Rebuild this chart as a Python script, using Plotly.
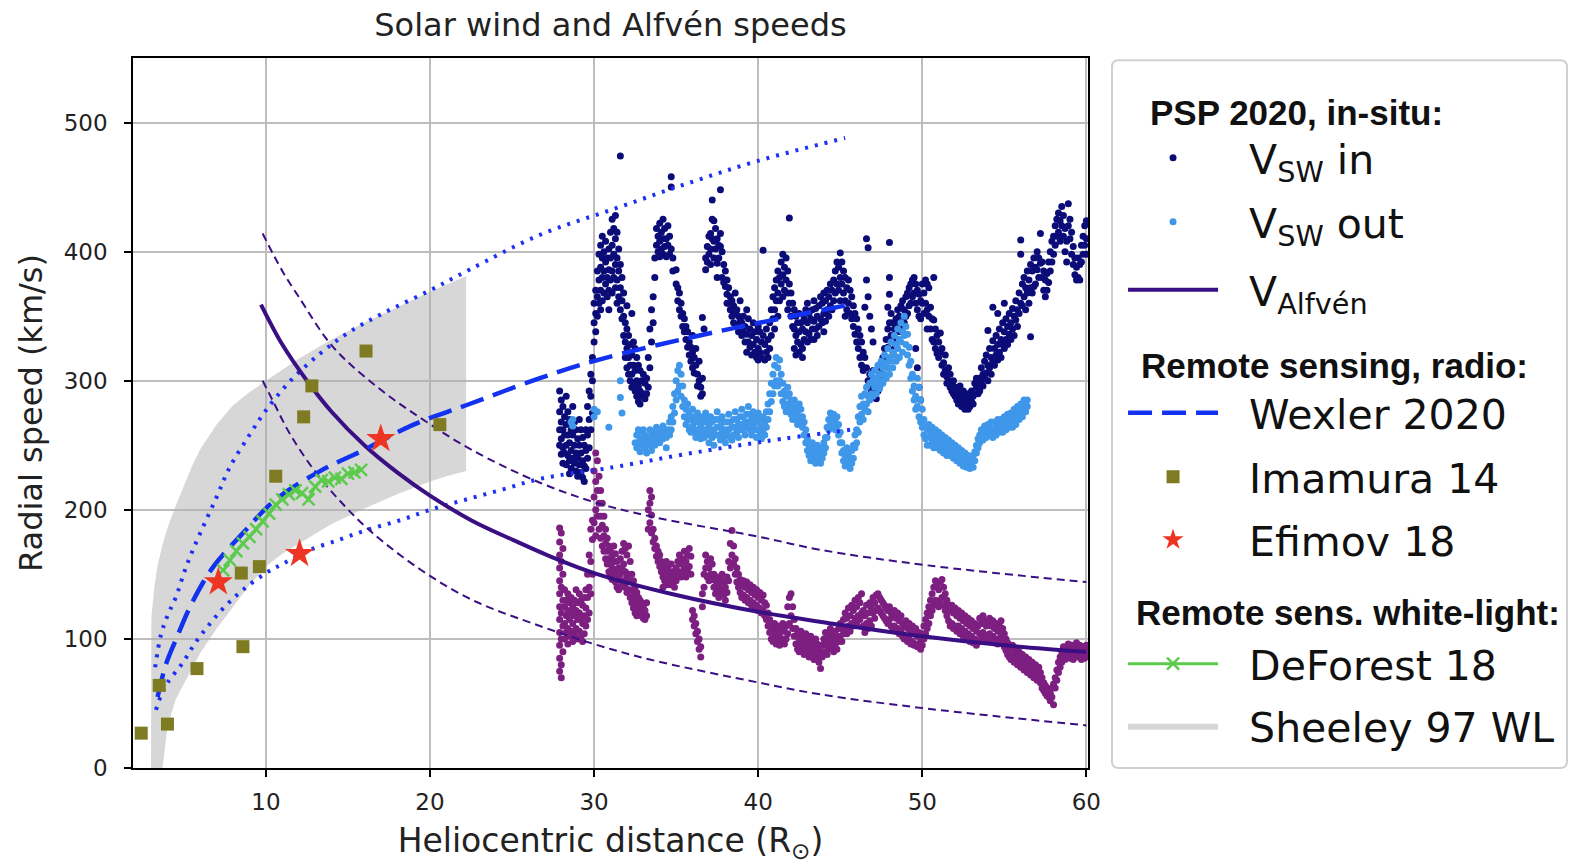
import plotly.graph_objects as go

# ---------------- axis ticks ----------------
x_ticks = [10, 20, 30, 40, 50, 60]
y_ticks = [0, 100, 200, 300, 400, 500]

# ---------------- remote-sensing points ----------------
imamura_r = [2.4, 3.5, 4.0, 5.8, 8.5, 8.6, 9.6, 10.6, 12.3, 12.8, 16.1, 20.6]
imamura_v = [27, 64, 34, 77, 151, 94, 156, 226, 272, 296, 323, 266]

efimov_r = [7.1, 12.05, 17.0]
efimov_v = [144, 166, 255]

deforest_r = [7.4, 7.8, 8.2, 8.6, 9.0, 9.4, 9.8, 10.2, 10.6, 11.0, 11.4, 11.8,
              12.2, 12.6, 13.0, 13.4, 13.8, 14.2, 14.6, 15.0, 15.4, 15.8]
deforest_v = [153, 161, 168, 174, 179, 185, 191, 197, 204, 208, 212, 215,
              213, 208, 218, 223, 222, 225, 224, 228, 229, 231]

# Sheeley 97 band (upper edge left->right, then lower edge right->left)
sheeley_r = [3.0, 3.0, 3.02, 3.2, 3.4, 3.7, 4.0, 4.5, 5.0, 5.5, 6.0, 6.5, 7.0, 8.0, 9.0,
             10.0, 12.0, 14.0, 16.0, 18.0, 20.0, 22.2,
             22.2, 21.0, 20.0, 18.0, 16.0, 14.0, 12.0, 11.0, 10.0, 9.0, 8.0, 7.0, 6.0,
             5.2, 4.5, 4.0, 3.7]
sheeley_v = [0, 60, 117, 140, 157, 173, 186, 203, 219, 234, 247, 257, 266, 281, 291,
             300, 317, 332, 345, 357, 369, 381,
             230, 226, 222, 212, 201, 189, 174, 166, 156, 142, 125, 108, 89,
             70, 53, 32, 0]

# Wexler 2020 fit and its envelope
wexler_r = [3.4, 3.9, 4.5, 5.5, 6.8, 8.6, 10.6, 13.3, 15.9, 19.0, 22.2, 26.7, 30.2, 35.7, 40.5, 45.6]
wexler_v = [55, 80, 99, 128, 156, 182, 208, 230, 246, 266, 281, 302, 316, 333, 346, 359]

wex_hi_r = [3.25, 3.6, 4.0, 4.5, 5.2, 6.0, 7.0, 7.8, 9.0, 10.0, 11.5, 13.3, 15.0, 17.1,
            20.0, 22.4, 26.7, 31.2, 35.5, 39.9, 45.3]
wex_hi_v = [78, 103, 118, 132, 158, 182, 210, 233, 258, 277, 300, 321, 337, 352,
            370, 386, 413, 433, 452, 470, 488]

wex_lo_r = [3.3, 3.6, 4.0, 4.9, 5.7, 6.6, 7.5, 8.6, 10.0, 11.0, 12.5, 14.5, 16.3, 18.2,
            20.0, 22.2, 24.5, 26.7, 31.2, 35.5, 40.4, 45.6]
wex_lo_v = [45, 56, 66, 81, 97, 112, 125, 138, 151, 158, 168, 177, 185, 192,
            200, 208, 216, 224, 233, 243, 253, 262]

# Alfven speed fit and its envelope
alf_r = [9.7, 11.0, 12.5, 14.0, 16.0, 18.0, 20.0, 22.5, 25.0, 27.5, 30.0, 35.0, 40.0, 45.0, 50.0, 55.0, 60.0]
alf_v = [359, 328, 300, 276, 250, 229, 211, 192, 177, 163, 151, 134, 121, 111, 102, 95, 90]

alf_hi_r = [9.8, 11.0, 12.0, 14.1, 17.0, 19.8, 22.6, 26.7, 30.0, 33.4, 40.1, 43.8, 50.3, 60.0]
alf_hi_v = [414, 385, 365, 326, 293, 268, 246, 221, 206, 195, 179, 169, 157, 144]

alf_lo_r = [9.8, 10.4, 11.5, 13.1, 14.8, 16.5, 19.5, 22.6, 26.7, 30.0, 33.4, 40.1, 43.8, 50.3, 60.0]
alf_lo_v = [300, 285, 258, 228, 203, 182, 153, 130, 110, 96, 84, 66, 57, 46, 33]

# ---------------- PSP in-situ samples: (distance, [speeds at that distance]) ----------------
vsw_in = [
    (27.9, [292, 276, 262, 250]), (28.0, [285, 268, 255, 243]), (28.1, [280, 262, 248, 236]),
    (28.2, [272, 258, 244]), (28.3, [288, 266, 250, 235]), (28.4, [276, 258, 242]),
    (28.5, [270, 252, 238, 228]), (28.6, [262, 246, 232]), (28.7, [280, 258, 240]),
    (28.8, [268, 250, 236]), (28.9, [262, 244, 230]), (29.0, [255, 240, 226]),
    (29.1, [270, 250, 235]), (29.2, [262, 244, 229]), (29.3, [256, 238, 225]),
    (29.4, [250, 234, 222]), (29.5, [262, 246, 232]), (29.6, [280, 258, 240]),
    (29.7, [292, 270, 248]), (29.8, [305, 288, 262]), (29.9, [318, 300, 275]),
    (30.0, [330, 345, 360]), (30.1, [370, 352, 338]), (30.2, [385, 365, 350]),
    (30.3, [398, 378, 360]), (30.4, [405, 388, 370, 355]), (30.5, [412, 395, 380, 362]),
    (30.6, [400, 385, 368]), (30.7, [408, 392, 375]), (30.8, [395, 380, 365]),
    (30.9, [402, 386, 370, 355]), (31.0, [415, 395, 378]), (31.1, [425, 405, 385, 368]),
    (31.2, [418, 398, 380]), (31.3, [428, 410, 390, 372]), (31.4, [415, 395, 378, 360]),
    (31.5, [402, 385, 365]), (31.6, [474, 390, 372, 355]), (31.7, [380, 362, 348]),
    (31.8, [368, 350, 335]), (31.9, [345, 330, 318]), (32.0, [358, 340, 325, 310]),
    (32.1, [335, 318, 305]), (32.2, [328, 312, 300]), (32.3, [352, 320, 305, 295]),
    (32.4, [330, 312, 298]), (32.5, [325, 308, 292]), (32.6, [318, 300, 288]),
    (32.7, [312, 296, 284]), (32.8, [308, 292, 282]), (32.9, [300, 288]),
    (33.0, [305, 290]), (33.1, [298, 286]), (33.2, [302, 290]), (33.3, [318, 295]),
    (33.4, [340, 310]), (33.5, [355, 330]), (33.6, [365, 345]), (33.7, [380, 395]),
    (33.8, [405, 418]), (33.9, [412, 400]), (34.0, [422, 408, 396]), (34.1, [415, 402]),
    (34.2, [425, 410, 398]), (34.3, [418, 404]), (34.4, [410, 396]), (34.5, [420, 405]),
    (34.6, [412, 398]), (34.7, [458, 450, 402]), (34.8, [395, 385]), (35.0, [386, 375]),
    (35.1, [372, 362]), (35.2, [368, 355]), (35.3, [360, 350]), (35.4, [352, 342]),
    (35.5, [348, 338]), (35.6, [342, 332]), (35.7, [338, 326]), (35.8, [330, 320]),
    (35.9, [326, 315]), (36.0, [335, 322, 310]), (36.1, [318, 306]), (36.2, [325, 312]),
    (36.3, [305, 296]), (36.4, [315, 300]), (36.5, [295, 288]), (36.6, [349, 302, 290]),
    (36.7, [340]), (36.8, [386, 395]), (36.9, [404, 392]), (37.0, [412, 398]),
    (37.1, [414, 402, 390]), (37.2, [440, 425, 410]), (37.3, [424, 408, 395]),
    (37.4, [418, 402]), (37.5, [410, 391, 380]), (37.6, [405, 395]), (37.7, [448, 414, 404]),
    (37.8, [400, 380]), (37.9, [390, 376]), (38.0, [385, 373]), (38.1, [378, 367, 360]),
    (38.2, [372, 360]), (38.3, [365, 355]), (38.4, [362, 350]), (38.5, [358, 345]),
    (38.6, [368, 352]), (38.7, [355, 342]), (38.8, [350, 338]), (38.9, [362, 346]),
    (39.0, [345, 335]), (39.1, [350, 338]), (39.2, [342, 330]), (39.3, [355, 336, 322]),
    (39.4, [348, 330]), (39.5, [340, 326]), (39.6, [335, 320]), (39.7, [345, 328]),
    (39.8, [338, 322]), (39.9, [332, 318]), (40.0, [342, 325, 316]), (40.1, [338, 322]),
    (40.2, [330, 318]), (40.3, [401, 335]), (40.4, [328, 316]), (40.5, [340, 322]),
    (40.6, [332, 318]), (40.7, [345, 325]), (40.8, [355, 335]), (40.9, [365, 348]),
    (41.0, [372, 355, 340]), (41.1, [378, 362]), (41.2, [385, 368, 350]), (41.3, [380, 362]),
    (41.4, [392, 375]), (41.5, [398, 382, 365]), (41.6, [388, 370]), (41.7, [395, 378]),
    (41.8, [385, 368, 355]), (41.9, [426, 375, 360]), (42.0, [368, 350]), (42.1, [360, 342]),
    (42.2, [355, 340, 325]), (42.3, [350, 335, 320]), (42.4, [345, 330]),
    (42.5, [352, 338, 322]), (42.6, [345, 328]), (42.7, [340, 325, 318]), (42.8, [348, 332]),
    (42.9, [355, 338]), (43.0, [360, 345, 330]), (43.1, [352, 336]), (43.2, [348, 332]),
    (43.3, [355, 340]), (43.4, [362, 346, 332]), (43.5, [356, 340]), (43.6, [350, 335]),
    (43.7, [358, 342]), (43.8, [365, 348]), (43.9, [360, 345]), (44.0, [368, 352, 338]),
    (44.1, [362, 346]), (44.2, [370, 355]), (44.3, [365, 350]), (44.4, [375, 358]),
    (44.5, [370, 355]), (44.6, [378, 362]), (44.7, [385, 368]), (44.8, [392, 375]),
    (44.9, [388, 370]), (45.0, [399, 380, 362]), (45.1, [392, 375]), (45.2, [385, 368]),
    (45.3, [380, 362, 350]), (45.4, [372, 355]), (45.5, [378, 360]), (45.6, [370, 352]),
    (45.7, [365, 348]), (45.8, [358, 342]), (45.9, [352, 336]), (46.0, [348, 330]),
    (46.1, [340, 325]), (46.2, [335, 318]), (46.3, [330, 312]), (46.4, [322, 308]),
    (46.5, [357, 318]), (46.6, [410, 378, 310]), (46.7, [403, 365, 300]),
    (46.8, [350, 305, 295]), (46.9, [340, 298, 292]), (47.0, [330, 308, 296]),
    (47.1, [302, 290]), (47.2, [298, 286]), (47.3, [300, 292]), (47.4, [295, 305]),
    (47.5, [310, 300]), (47.6, [318, 305]), (47.7, [325, 312]), (47.8, [332, 318]),
    (47.9, [357, 340, 326]), (48.0, [407, 380, 367, 345]), (48.1, [352, 335]),
    (48.2, [334, 345]), (48.3, [340, 325]), (48.4, [348, 332]), (48.5, [344, 355]),
    (48.6, [350, 338]), (48.7, [358, 342]), (48.8, [362, 348]), (48.9, [355, 345]),
    (49.0, [365, 350]), (49.1, [352, 368]), (49.2, [372, 358]), (49.3, [375, 360]),
    (49.4, [378, 365]), (49.5, [380, 368]), (49.6, [375, 360, 325]), (49.7, [370, 355, 310]),
    (49.8, [367, 350, 295]), (49.9, [362, 348, 285]), (50.0, [375, 360]), (50.1, [368, 352]),
    (50.2, [378, 360]), (50.3, [375, 355, 340]), (50.4, [372, 350]), (50.5, [357, 340]),
    (50.6, [348, 332]), (50.7, [380, 347, 330]), (50.8, [340, 325]), (50.9, [335, 321]),
    (51.0, [330, 318]), (51.1, [337, 322]), (51.2, [325, 312]), (51.3, [314, 305]),
    (51.4, [320, 308]), (51.5, [303, 298]), (51.6, [310, 300]), (51.7, [305, 295]),
    (51.8, [298, 292]), (51.9, [300, 290]), (52.0, [295, 288]), (52.1, [292, 285]),
    (52.2, [290, 282]), (52.3, [296, 286]), (52.4, [288, 280]), (52.5, [292, 284]),
    (52.6, [286, 278]), (52.7, [282, 290]), (52.8, [285, 278]), (52.9, [288, 280]),
    (53.0, [292, 284]), (53.1, [288, 282]), (53.2, [290, 298]), (53.3, [295, 302]),
    (53.4, [298, 290]), (53.5, [302, 292]), (53.6, [310, 298]), (53.7, [305, 296]),
    (53.8, [315, 302]), (53.9, [320, 306]), (54.0, [339, 312, 300]), (54.1, [325, 310]),
    (54.2, [318, 305]), (54.3, [357, 331, 315]), (54.4, [325, 312]), (54.5, [335, 320]),
    (54.6, [352, 328, 316]), (54.7, [340, 322]), (54.8, [332, 318]), (54.9, [345, 328]),
    (55.0, [360, 338, 325]), (55.1, [348, 332]), (55.2, [342, 328]), (55.3, [352, 336]),
    (55.4, [345, 332]), (55.5, [356, 340]), (55.6, [350, 335]), (55.7, [362, 347]),
    (55.8, [355, 342]), (55.9, [368, 352]), (56.0, [409, 398, 360]), (56.1, [375, 358]),
    (56.2, [380, 365]), (56.3, [372, 355]), (56.4, [385, 368]), (56.5, [378, 360]),
    (56.6, [390, 372, 334]), (56.7, [385, 368]), (56.8, [395, 373]), (56.9, [388, 375]),
    (57.0, [400, 386]), (57.1, [395, 380]), (57.2, [414, 391]), (57.3, [392, 380]),
    (57.4, [385, 370]), (57.5, [378, 365]), (57.6, [383, 370]), (57.7, [392, 376]),
    (57.8, [400, 385]), (57.9, [408, 392]), (58.0, [398, 412]), (58.1, [420, 405]),
    (58.2, [412, 425]), (58.3, [430, 415]), (58.4, [424, 408]), (58.5, [435, 420]),
    (58.6, [428, 412]), (58.7, [418, 400]), (58.8, [408, 392]), (58.9, [437, 420]),
    (59.0, [425, 410]), (59.1, [415, 398]), (59.2, [404, 390]), (59.3, [395, 382]),
    (59.4, [388, 378]), (59.5, [395, 380]), (59.6, [378, 390]), (59.7, [405, 392]),
    (59.8, [412, 398]), (59.9, [420, 405]), (60.0, [424, 410, 398]),
]

vsw_out = [
    (28.6, [268]), (28.7, [265, 270]), (30.0, [272, 278]), (30.2, [276]), (30.9, [264]),
    (31.6, [300, 287]), (31.7, [275]), (32.5, [252]), (32.6, [258, 248]), (32.7, [262, 250]),
    (32.8, [255, 245]), (32.9, [260, 250]), (33.0, [262, 254]), (33.1, [258, 248]),
    (33.2, [252, 244]), (33.3, [256]), (33.4, [262, 250]), (33.5, [258, 246]), (33.6, [254]),
    (33.7, [260, 250]), (33.8, [264, 255]), (33.9, [258]), (34.0, [262, 252]), (34.1, [258]),
    (34.2, [265, 255]), (34.3, [260]), (34.4, [256, 248]), (34.5, [262]), (34.6, [268, 258]),
    (34.7, [272, 262]), (34.8, [280, 268]), (34.9, [290, 275]), (35.0, [300, 285]),
    (35.1, [308, 292]), (35.2, [312, 296]), (35.3, [305, 288]), (35.4, [296, 280]),
    (35.5, [285, 272]), (35.6, [278, 266]), (35.7, [282, 270]), (35.8, [275, 262]),
    (35.9, [270, 260]), (36.0, [278, 265]), (36.1, [272, 260]), (36.2, [268, 256]),
    (36.3, [275, 262]), (36.4, [270, 258]), (36.5, [265, 255]), (36.6, [272, 260]),
    (36.7, [268, 256]), (36.8, [275, 262]), (36.9, [270, 258]), (37.0, [265, 252]),
    (37.1, [272, 260]), (37.2, [268, 256]), (37.3, [262, 250]), (37.4, [270, 258]),
    (37.5, [276, 264]), (37.6, [270, 258]), (37.7, [265, 254]), (37.8, [272, 260]),
    (37.9, [268, 256]), (38.0, [262, 252]), (38.1, [268, 258]), (38.2, [274, 262]),
    (38.3, [268, 256]), (38.4, [264, 254]), (38.5, [270, 258]), (38.6, [276, 264]),
    (38.7, [270, 260]), (38.8, [266, 256]), (38.9, [272, 262]), (39.0, [278, 266]),
    (39.1, [272, 262]), (39.2, [268, 258]), (39.3, [274, 264]), (39.4, [280, 268]),
    (39.5, [274, 262]), (39.6, [270, 258]), (39.7, [276, 265]), (39.8, [272, 262]),
    (39.9, [268, 256]), (40.0, [275, 262]), (40.1, [270, 258]), (40.2, [265, 255]),
    (40.3, [272, 262]), (40.4, [268, 258]), (40.5, [276, 264]), (40.6, [282, 270]),
    (40.7, [290, 276]), (40.8, [298, 284]), (40.9, [305, 290]), (41.0, [312, 296]),
    (41.1, [318, 300]), (41.2, [310, 296]), (41.3, [316, 300]), (41.4, [305, 290]),
    (41.5, [298, 284]), (41.6, [292, 280]), (41.7, [288, 276]), (41.8, [295, 282]),
    (41.9, [290, 278]), (42.0, [285, 274]), (42.1, [280, 270]), (42.2, [285, 275]),
    (42.3, [280, 270]), (42.4, [276, 266]), (42.5, [282, 272]), (42.6, [278, 268]),
    (42.7, [272, 264]), (42.8, [268, 258]), (42.9, [262, 252]), (43.0, [255, 246]),
    (43.1, [250, 242]), (43.2, [246, 238]), (43.3, [252, 242]), (43.4, [248, 240]),
    (43.5, [244, 236]), (43.6, [250, 240]), (43.7, [246, 238]), (43.8, [242, 236]),
    (43.9, [248, 240]), (44.0, [252, 244]), (44.1, [256, 248]), (44.2, [264, 256]),
    (44.3, [270, 262]), (44.4, [275, 266]), (44.5, [270, 264]), (44.6, [274, 266]),
    (44.7, [268, 262]), (44.8, [272, 265]), (44.9, [266, 258]), (45.0, [260, 252]),
    (45.1, [252, 244]), (45.2, [246, 238]), (45.3, [242, 234]), (45.4, [248, 238]),
    (45.5, [244, 236]), (45.6, [240, 232]), (45.7, [246, 236]), (45.8, [250, 240]),
    (45.9, [258, 248]), (46.0, [262, 252]), (46.1, [272, 260]), (46.2, [280, 268]),
    (46.3, [288, 274]), (46.4, [282, 270]), (46.5, [290, 278]), (46.6, [295, 282]),
    (46.7, [288, 276]), (46.8, [298, 285]), (46.9, [305, 290]), (47.0, [300, 288]),
    (47.1, [308, 295]), (47.2, [302, 290]), (47.3, [312, 298]), (47.4, [305, 294]),
    (47.5, [315, 300]), (47.6, [310, 298]), (47.7, [320, 305]), (47.8, [314, 302]),
    (47.9, [325, 310]), (48.0, [318, 305]), (48.1, [330, 315]), (48.2, [322, 310]),
    (48.3, [335, 320]), (48.4, [328, 315]), (48.5, [340, 325]), (48.6, [332, 318]),
    (48.7, [345, 330]), (48.8, [338, 322]), (48.9, [350, 335]), (49.0, [342, 328]),
    (49.1, [336, 320]), (49.2, [326, 312]), (49.3, [315, 302]), (49.4, [305, 292]),
    (49.5, [296, 285]), (49.6, [288, 278]), (49.7, [302, 280]), (49.8, [295, 272]),
    (49.9, [285, 268]), (50.0, [278, 264]), (50.1, [270, 258]), (50.2, [265, 255]),
    (50.3, [262, 250]), (50.4, [266, 256]), (50.5, [260, 250]), (50.6, [264, 254]),
    (50.7, [258, 248]), (50.8, [262, 252]), (50.9, [256, 248]), (51.0, [260, 250]),
    (51.1, [255, 246]), (51.2, [258, 250]), (51.3, [252, 244]), (51.4, [256, 248]),
    (51.5, [250, 242]), (51.6, [254, 246]), (51.7, [248, 242]), (51.8, [252, 244]),
    (51.9, [246, 240]), (52.0, [250, 242]), (52.1, [244, 238]), (52.2, [248, 240]),
    (52.3, [242, 236]), (52.4, [246, 238]), (52.5, [240, 234]), (52.6, [244, 236]),
    (52.7, [238, 233]), (52.8, [242, 234]), (52.9, [238, 232]), (53.0, [235, 240]),
    (53.1, [233, 242]), (53.2, [238, 245]), (53.3, [244, 250]), (53.4, [248, 255]),
    (53.5, [252, 258]), (53.6, [256, 262]), (53.7, [254, 260]), (53.8, [258, 265]),
    (53.9, [256, 262]), (54.0, [260, 266]), (54.1, [258, 264]), (54.2, [262, 268]),
    (54.3, [256, 262]), (54.4, [260, 268]), (54.5, [258, 264]), (54.6, [262, 270]),
    (54.7, [260, 266]), (54.8, [264, 270]), (54.9, [260, 268]), (55.0, [265, 272]),
    (55.1, [262, 270]), (55.2, [266, 274]), (55.3, [264, 270]), (55.4, [268, 275]),
    (55.5, [264, 272]), (55.6, [270, 278]), (55.7, [266, 274]), (55.8, [272, 280]),
    (55.9, [270, 278]), (56.0, [275, 282]), (56.1, [272, 280]), (56.2, [278, 285]),
    (56.3, [276, 282]), (56.4, [280, 285]),
]

v_alfven = [
    (27.9, [186, 175, 165, 155, 145, 135, 125, 115, 105, 95, 85, 75]),
    (28.0, [182, 160, 140, 120, 100, 80, 70]), (28.1, [170, 150, 130, 110, 90]),
    (28.2, [138, 125, 112, 100]), (28.3, [130, 118, 105]), (28.4, [135, 122, 108, 96]),
    (28.5, [128, 115, 102]), (28.6, [132, 120, 106]), (28.7, [125, 112, 98]),
    (28.8, [130, 118, 104]), (28.9, [138, 122, 108]), (29.0, [128, 115, 100]),
    (29.1, [135, 120, 106]), (29.2, [130, 116, 102]), (29.3, [126, 112, 98]),
    (29.4, [132, 118, 104]), (29.5, [138, 124, 110]), (29.6, [150, 132, 115]),
    (29.7, [165, 140, 120]), (29.8, [185, 160, 135]), (29.9, [192, 177, 150]),
    (30.0, [230, 210, 190]), (30.1, [244, 222, 200, 180]), (30.2, [238, 215, 195]),
    (30.3, [226, 205, 185]), (30.4, [215, 195, 178]), (30.5, [205, 188, 172]),
    (30.6, [195, 180, 168]), (30.7, [185, 174, 162]), (30.8, [178, 168, 158]),
    (30.9, [172, 162, 152]), (31.0, [168, 158, 148]), (31.1, [164, 155, 146]),
    (31.2, [172, 160, 150]), (31.3, [166, 154, 144]), (31.4, [160, 150, 140]),
    (31.5, [155, 146, 138]), (31.6, [162, 150, 140]), (31.7, [168, 155, 142]),
    (31.8, [174, 158, 145]), (31.9, [170, 152, 140]), (32.0, [165, 148, 136]),
    (32.1, [172, 150, 138]), (32.2, [160, 145, 132]), (32.3, [150, 138, 128]),
    (32.4, [145, 134, 124]), (32.5, [140, 130, 120]), (32.6, [136, 126, 118]),
    (32.7, [132, 124]), (32.8, [130, 120]), (32.9, [128, 118]), (33.0, [125, 116]),
    (33.1, [122, 115]), (33.2, [128, 118]), (33.3, [200, 185]), (33.4, [215, 205, 190]),
    (33.5, [210, 196, 182]), (33.6, [185, 175]), (33.7, [178, 170]), (33.8, [172, 164]),
    (33.9, [168, 160]), (34.0, [165, 156]), (34.1, [160, 152]), (34.2, [156, 148, 140]),
    (34.3, [152, 145]), (34.4, [160, 150, 142]), (34.5, [155, 146]), (34.6, [150, 142]),
    (34.7, [158, 148]), (34.8, [152, 144]), (34.9, [148, 140]), (35.0, [155, 145]),
    (35.1, [160, 150]), (35.2, [165, 152]), (35.3, [158, 148]), (35.4, [162, 150]),
    (35.5, [168, 155]), (35.6, [160, 148]), (35.7, [165, 152]), (35.8, [170, 156]),
    (35.9, [164, 150]), (36.0, [122, 115]), (36.1, [118, 110]), (36.2, [112, 104]),
    (36.3, [106, 98]), (36.4, [100, 92]), (36.5, [94, 86]), (36.6, [135, 125]),
    (36.7, [150, 140]), (36.8, [165, 155]), (36.9, [160, 148]), (37.0, [155, 145]),
    (37.1, [162, 150]), (37.2, [158, 146]), (37.3, [150, 140]), (37.4, [145, 135]),
    (37.5, [148, 138]), (37.6, [142, 132]), (37.7, [146, 136]), (37.8, [150, 138]),
    (37.9, [144, 134]), (38.0, [140, 130]), (38.1, [148, 136]), (38.2, [160, 145]),
    (38.3, [174, 155]), (38.4, [184, 165]), (38.5, [172, 158]), (38.6, [162, 150]),
    (38.7, [155, 144]), (38.8, [150, 140]), (38.9, [146, 136]), (39.0, [142, 132]),
    (39.1, [145, 134]), (39.2, [140, 130]), (39.3, [144, 132]), (39.4, [138, 128]),
    (39.5, [142, 130]), (39.6, [136, 126]), (39.7, [140, 128]), (39.8, [134, 124]),
    (39.9, [138, 126]), (40.0, [132, 122]), (40.1, [136, 124]), (40.2, [130, 120]),
    (40.3, [134, 122]), (40.4, [128, 118]), (40.5, [126, 115]), (40.6, [120, 110]),
    (40.7, [115, 105]), (40.8, [110, 100]), (40.9, [108, 98]), (41.0, [112, 102]),
    (41.1, [105, 96]), (41.2, [110, 100]), (41.3, [104, 95]), (41.4, [108, 98]),
    (41.5, [112, 100]), (41.6, [106, 96]), (41.7, [110, 100]), (41.8, [125, 104]),
    (41.9, [132, 112]), (42.0, [135, 118]), (42.1, [125, 108]), (42.2, [115, 102]),
    (42.3, [108, 96]), (42.4, [104, 92]), (42.5, [100, 90]), (42.6, [106, 95]),
    (42.7, [102, 92]), (42.8, [98, 88]), (42.9, [104, 94]), (43.0, [100, 90]),
    (43.1, [96, 86]), (43.2, [102, 92]), (43.3, [98, 88]), (43.4, [94, 84]),
    (43.5, [100, 90]), (43.6, [96, 85]), (43.7, [92, 82]), (43.8, [88, 77]),
    (43.9, [95, 86]), (44.0, [100, 90]), (44.1, [105, 95]), (44.2, [98, 88]),
    (44.3, [102, 92]), (44.4, [108, 97]), (44.5, [104, 94]), (44.6, [100, 90]),
    (44.7, [106, 96]), (44.8, [102, 92]), (44.9, [108, 98]), (45.0, [112, 102]),
    (45.1, [108, 98]), (45.2, [115, 104]), (45.3, [120, 108]), (45.4, [116, 104]),
    (45.5, [124, 110]), (45.6, [118, 106]), (45.7, [126, 112]), (45.8, [122, 110]),
    (45.9, [130, 116]), (46.0, [125, 112]), (46.1, [132, 118]), (46.2, [128, 115]),
    (46.3, [135, 120]), (46.4, [122, 110]), (46.5, [118, 105]), (46.6, [126, 112]),
    (46.7, [120, 108]), (46.8, [128, 114]), (46.9, [124, 110]), (47.0, [132, 120]),
    (47.1, [128, 116]), (47.2, [134, 122]), (47.3, [135, 124]), (47.4, [132, 122]),
    (47.5, [130, 120]), (47.6, [128, 118]), (47.7, [126, 116]), (47.8, [124, 114]),
    (47.9, [122, 112]), (48.0, [125, 115]), (48.1, [120, 110]), (48.2, [118, 108]),
    (48.3, [122, 110]), (48.4, [116, 106]), (48.5, [120, 108]), (48.6, [114, 104]),
    (48.7, [118, 106]), (48.8, [112, 102]), (48.9, [110, 100]), (49.0, [114, 102]),
    (49.1, [108, 98]), (49.2, [112, 100]), (49.3, [106, 96]), (49.4, [110, 98]),
    (49.5, [104, 95]), (49.6, [108, 96]), (49.7, [102, 94]), (49.8, [105, 96]),
    (49.9, [100, 92]), (50.0, [104, 95]), (50.1, [110, 100]), (50.2, [115, 104]),
    (50.3, [120, 108]), (50.4, [125, 112]), (50.5, [130, 118]), (50.6, [135, 122]),
    (50.7, [140, 126]), (50.8, [145, 130]), (50.9, [142, 128]), (51.0, [138, 125]),
    (51.1, [144, 130]), (51.2, [146, 132]), (51.3, [140, 126]), (51.4, [135, 122]),
    (51.5, [130, 118]), (51.6, [126, 114]), (51.7, [122, 110]), (51.8, [126, 112]),
    (51.9, [120, 108]), (52.0, [124, 110]), (52.1, [118, 106]), (52.2, [122, 110]),
    (52.3, [116, 104]), (52.4, [120, 108]), (52.5, [114, 102]), (52.6, [118, 106]),
    (52.7, [112, 100]), (52.8, [116, 104]), (52.9, [110, 98]), (53.0, [114, 102]),
    (53.1, [108, 97]), (53.2, [112, 100]), (53.3, [106, 95]), (53.4, [110, 98]),
    (53.5, [116, 104]), (53.6, [112, 100]), (53.7, [118, 105]), (53.8, [114, 102]),
    (53.9, [110, 98]), (54.0, [112, 100]), (54.1, [116, 104]), (54.2, [110, 98]),
    (54.3, [114, 102]), (54.4, [108, 97]), (54.5, [112, 100]), (54.6, [106, 96]),
    (54.7, [110, 98]), (54.8, [114, 102]), (54.9, [108, 97]), (55.0, [104, 94]),
    (55.1, [100, 91]), (55.2, [97, 88]), (55.3, [94, 86]), (55.4, [92, 84]),
    (55.5, [95, 86]), (55.6, [90, 82]), (55.7, [92, 84]), (55.8, [88, 80]),
    (55.9, [90, 82]), (56.0, [86, 78]), (56.1, [88, 80]), (56.2, [84, 76]),
    (56.3, [86, 78]), (56.4, [82, 74]), (56.5, [84, 76]), (56.6, [80, 72]),
    (56.7, [82, 74]), (56.8, [78, 70]), (56.9, [80, 72]), (57.0, [76, 68]),
    (57.1, [78, 70]), (57.2, [74, 66]), (57.3, [70, 62]), (57.4, [66, 60]),
    (57.5, [64, 58]), (57.6, [62, 56]), (57.7, [60, 55]), (57.8, [58, 52]),
    (57.9, [62, 55]), (58.0, [65, 49]), (58.1, [70, 62]), (58.2, [76, 68]),
    (58.3, [82, 74]), (58.4, [86, 78]), (58.5, [90, 82]), (58.6, [94, 85]),
    (58.7, [90, 84]), (58.8, [94, 86]), (58.9, [96, 88]), (59.0, [92, 85]),
    (59.1, [95, 88]), (59.2, [90, 84]), (59.3, [94, 86]), (59.4, [97, 88]),
    (59.5, [92, 86]), (59.6, [95, 88]), (59.7, [90, 84]), (59.8, [94, 86]),
    (59.9, [92, 85]), (60.0, [95, 88]),
]


def flatten(groups):
    rs = [r for r, vs in groups for _ in vs]
    vs_ = [v for _, vs in groups for v in vs]
    return rs, vs_


vin_r, vin_v = flatten(vsw_in)
vout_r, vout_v = flatten(vsw_out)
valf_r, valf_v = flatten(v_alfven)

# ---------------- styling ----------------
C_NAVY = "#0b0c78"
C_LBLUE = "#3f97ea"
C_PURPLE = "#7d1f80"
C_INDIGO = "#3b0f84"
C_BLUE = "#1232f0"
C_DOT = "#1e30f2"
C_OLIVE = "#7f7b22"
C_RED = "#ee3524"
C_GREEN = "#5ccb4c"
FONT = "DejaVu Sans, Verdana, sans-serif"
NB = "\u00a0\u00a0"

fig = go.Figure()

fig.add_trace(go.Scatter(x=sheeley_r, y=sheeley_v, mode="lines", fill="toself",
                         fillcolor="rgba(176,176,176,0.5)", line=dict(width=0),
                         name=NB + "Sheeley 97 WL", legend="legend8", hoverinfo="skip"))

fig.add_trace(go.Scatter(x=vin_r, y=vin_v, mode="markers", name=NB + "V<sub>SW</sub> in",
                         marker=dict(color=C_NAVY, size=7), legend="legend"))
fig.add_trace(go.Scatter(x=vout_r, y=vout_v, mode="markers", name=NB + "V<sub>SW</sub> out",
                         marker=dict(color=C_LBLUE, size=7), legend="legend2"))
fig.add_trace(go.Scatter(x=valf_r, y=valf_v, mode="markers", name="V_A samples",
                         marker=dict(color=C_PURPLE, size=7), showlegend=False))

for rr, vv in [(wex_hi_r, wex_hi_v), (wex_lo_r, wex_lo_v)]:
    fig.add_trace(go.Scatter(x=rr, y=vv, mode="lines",
                             line=dict(color=C_DOT, width=4, dash="3px,7px", shape="spline"),
                             showlegend=False, hoverinfo="skip"))
for rr, vv in [(alf_hi_r, alf_hi_v), (alf_lo_r, alf_lo_v)]:
    fig.add_trace(go.Scatter(x=rr, y=vv, mode="lines",
                             line=dict(color=C_INDIGO, width=2, dash="8px,5px", shape="spline"),
                             showlegend=False, hoverinfo="skip"))

fig.add_trace(go.Scatter(x=alf_r, y=alf_v, mode="lines", name=NB + "V<sub>Alfvén</sub>",
                         line=dict(color=C_INDIGO, width=4, shape="spline"), legend="legend3"))
fig.add_trace(go.Scatter(x=wexler_r, y=wexler_v, mode="lines", name=NB + "Wexler 2020",
                         line=dict(color=C_BLUE, width=4.5, dash="24px,10px", shape="spline"),
                         legend="legend4"))
fig.add_trace(go.Scatter(x=deforest_r, y=deforest_v, mode="lines+markers", name=NB + "DeForest 18",
                         line=dict(color=C_GREEN, width=3),
                         marker=dict(symbol="x-thin", size=12, line=dict(color=C_GREEN, width=2.5)),
                         legend="legend7"))
fig.add_trace(go.Scatter(x=imamura_r, y=imamura_v, mode="markers", name=NB + "Imamura 14",
                         marker=dict(symbol="square", size=13, color=C_OLIVE), legend="legend5"))
fig.add_trace(go.Scatter(x=efimov_r, y=efimov_v, mode="markers", name=NB + "Efimov 18",
                         marker=dict(symbol="star", size=22, color=C_RED), legend="legend6"))

# ---------------- legend: one row per legend object ----------------
LEG_X = 1.0367
rows = {"legend": 158, "legend2": 222, "legend3": 290, "legend4": 413,
        "legend5": 477, "legend6": 540, "legend7": 664, "legend8": 726}
leg_layout = {}
for key, ypx in rows.items():
    leg_layout[key] = dict(x=LEG_X, y=(768 - ypx) / 710, xanchor="left", yanchor="middle",
                           bgcolor="rgba(0,0,0,0)", borderwidth=0, itemwidth=90,
                           font=dict(family=FONT, size=41, color="#111"))
fig.update_layout(**leg_layout)

# legend frame
x0, x1, y0, y1 = 1.0251, 1.5016, 0.0, 0.997
rx, ry = 0.007, 0.0095
path = (f"M {x0+rx},{y0} L {x1-rx},{y0} Q {x1},{y0} {x1},{y0+ry} L {x1},{y1-ry} "
        f"Q {x1},{y1} {x1-rx},{y1} L {x0+rx},{y1} Q {x0},{y1} {x0},{y1-ry} "
        f"L {x0},{y0+ry} Q {x0},{y0} {x0+rx},{y0} Z")
fig.add_shape(type="path", path=path, xref="paper", yref="paper",
              line=dict(color="#d0d0d0", width=2), fillcolor="rgba(255,255,255,0)")

HEAD_FONT = dict(family="Liberation Sans, Arial, sans-serif", size=35, color="#111")
for txt, xpx, ypx in [("PSP 2020, in-situ:", 1148, 112),
                      ("Remote sensing, radio:", 1139, 365),
                      ("Remote sens. white-light:", 1134, 612)]:
    fig.add_annotation(text="<b>" + txt + "</b>", x=(xpx - 133) / 955, y=(768 - ypx) / 710,
                       xref="paper", yref="paper", xanchor="left", yanchor="middle",
                       showarrow=False, font=HEAD_FONT)

axis_common = dict(showline=True, linecolor="black", linewidth=1.5, mirror=True,
                   ticks="outside", ticklen=7, tickwidth=1.5, tickcolor="black",
                   showgrid=True, gridcolor="#bdbdbd", gridwidth=1.5, zeroline=False,
                   tickfont=dict(family=FONT, size=23, color="#222"), automargin=False)

fig.update_xaxes(range=[1.9, 60.1], tickvals=x_ticks, ticklabelstandoff=6,
                 title=dict(text="Heliocentric distance (R<sub>⊙</sub>)", standoff=16,
                            font=dict(family=FONT, size=33, color="#222")),
                 **axis_common)
fig.update_yaxes(range=[0, 550], tickvals=y_ticks, ticklabelstandoff=12,
                 title=dict(text="Radial speed (km/s)", standoff=12,
                            font=dict(family=FONT, size=32, color="#222")),
                 **axis_common)

fig.update_layout(
    width=1573, height=864,
    margin=dict(l=133, r=485, t=58, b=96),
    paper_bgcolor="white", plot_bgcolor="white",
    title=dict(text="Solar wind and Alfvén speeds", x=0.5, xref="paper", xanchor="center",
               y=1 - 25 / 864, yref="container", yanchor="middle",
               font=dict(family=FONT, size=32, color="#222")),
    showlegend=True,
)

fig.write_html("out.html", config={"displayModeBar": False},
               post_script="document.body.style.margin='0px';document.body.style.padding='0px';")
